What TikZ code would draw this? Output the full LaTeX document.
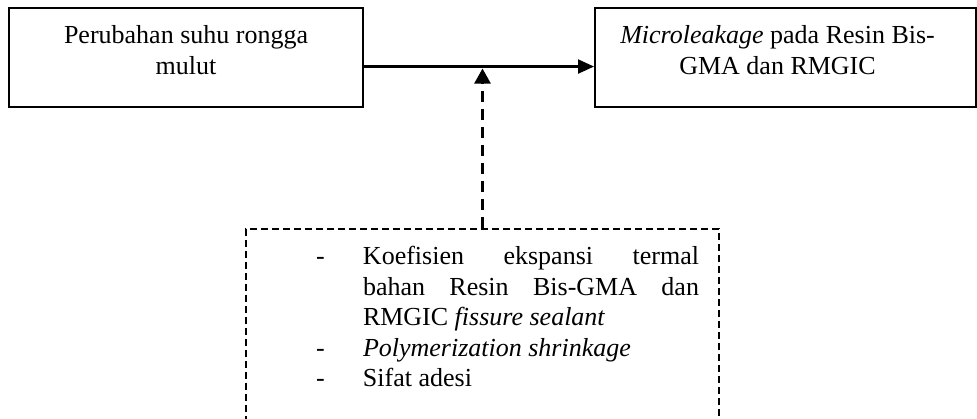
\documentclass[tikz,border=0pt]{standalone}
\usepackage{fontspec}
\setmainfont{Liberation Serif}
\usetikzlibrary{arrows.meta}

% a line of fixed width whose word spaces are stretched (justified)
\newcommand\jline[1]{\makebox[336pt][s]{#1}}

\begin{document}
\begin{tikzpicture}[x=1pt,y=-1pt,
    every node/.style={font=\fontsize{26}{31}\selectfont},
    stepbox/.style={draw, line width=2.1pt, inner sep=0pt, anchor=north west},
    factorbox/.style={draw, line width=2pt, dash pattern=on 7pt off 4pt,
                      inner sep=0pt, anchor=north west},
    solidlink/.style={line width=2.2pt, -{Triangle[length=16pt,width=14pt]}},
    dashlink/.style={line width=2.6pt, dash pattern=on 11pt off 7pt,
                     -{Triangle[length=15pt,width=16pt]}}]
  \useasboundingbox (0,0) rectangle (977,419);
  \clip (0,0) rectangle (977,419);

  % cause and effect boxes
  \node[stepbox] (cause) at (8,7)
    {\parbox[t][99pt][t]{354pt}{\centering
      \rule{0pt}{35pt}Perubahan suhu rongga\\ mulut}};
  \node[stepbox] (effect) at (594,7)
    {\parbox[t][99pt][t]{381pt}{\centering
      \hspace*{-16pt}\rule{0pt}{35pt}\emph{Microleakage} pada Resin Bis-\\
      \hspace*{-16pt}GMA dan RMGIC}};

  % influencing factors (box runs on past the lower edge)
  \node[factorbox] (factors) at (245,228)
    {\parbox[t][220pt][t]{473pt}{\setlength\baselineskip{30.5pt}\raggedright
      \hspace*{70pt}\makebox[47pt][l]{-}\jline{Koefisien ekspansi termal}\rule{0pt}{36pt}\\
      \hspace*{117pt}\jline{bahan Resin Bis-GMA dan}\\
      \hspace*{117pt}RMGIC \emph{fissure sealant}\\
      \hspace*{70pt}\makebox[47pt][l]{-}\emph{Polymerization shrinkage}\\
      \hspace*{70pt}\makebox[47pt][l]{-}Sifat adesi}};

  % connectors
  \draw[solidlink] ([yshift=-9pt]cause.east) -- coordinate (link)
                   ([yshift=-9pt]effect.west);
  \draw[dashlink] (factors.north) -- ([yshift=-2pt]factors.north |- link);
\end{tikzpicture}
\end{document}
